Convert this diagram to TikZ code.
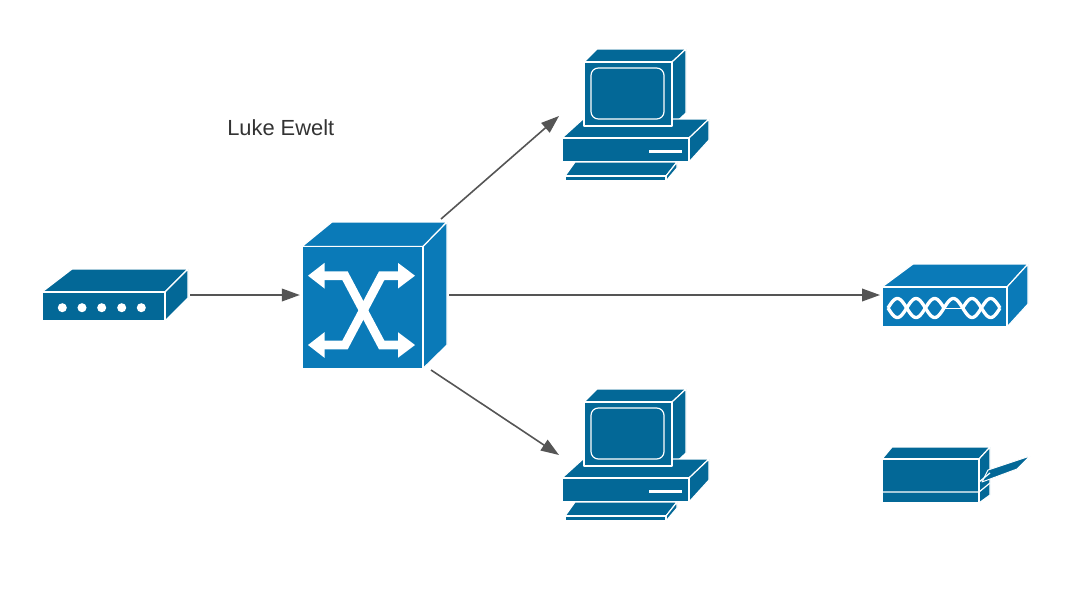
\documentclass[tikz,border=0pt]{standalone}
\usepackage{fontspec}
\setmainfont{Liberation Sans}
\usetikzlibrary{arrows.meta}
\definecolor{devdark}{HTML}{036897}
\definecolor{devlight}{HTML}{0A7AB8}
\definecolor{wire}{HTML}{555555}
\definecolor{label}{HTML}{333333}
\tikzset{
  face/.style={fill=devdark,draw=white,line width=0.9pt,line join=round},
  lface/.style={fill=devlight,draw=white,line width=0.9pt,line join=round},
  glyph/.style={draw=white,line width=6.6pt,line join=miter},
  glyphtip/.style={fill=white,draw=none},
  wave/.style={draw=white,line width=2.5pt},
  wire line/.style={draw=wire,line width=1.2pt,-{Triangle[length=13.5pt,width=9.5pt]}},
  anchor box/.style={inner sep=0pt,outer sep=1.5pt,minimum width=#1},
  caption/.style={text=label,font=\fontsize{16.4pt}{19pt}\selectfont,inner sep=0pt}
}
\newcommand{\computerdev}{%
  \path[face] (584,62) -- (597,49) -- (686,49) -- (672,62) -- cycle;
  \path[face] (672,62) -- (686,49) -- (686,113) -- (672,126) -- cycle;
  \path[face] (562,138) -- (583,119) -- (709,119) -- (689,138) -- cycle;
  \path[face] (689,138) -- (709,119) -- (709,140) -- (689,162) -- cycle;
  \path[face] (562,138) rectangle (689,162);
  \path[face] (584,62) rectangle (672,126);
  \path[face,rounded corners=5.5pt] (591,68) rectangle (664,119);
  \fill[white] (649,150) rectangle (682,152.5);
  \path[face] (565,176) -- (575,162) -- (677,162) -- (666,176) -- cycle;
  \path[face] (666,176) -- (677,162) -- (677,168) -- (666,181) -- cycle;
  \path[face] (565,176) rectangle (666,181);
}
\begin{document}
\begin{tikzpicture}[x=0.75pt,y=-0.75pt]
\useasboundingbox (0,0) rectangle (1070,590);
% hub
\path[face] (42,292) -- (72,269) -- (188,269) -- (165,292) -- cycle;
\path[face] (165,292) -- (188,269) -- (188,298) -- (165,321) -- cycle;
\path[face] (42,292) rectangle (165,321);
\foreach \dx in {62.3,82,101.7,121.7,141.3}
  \fill[white] (\dx,307.7) circle (3.4pt);
\node[anchor box=109.5pt,minimum height=39pt] (hub) at (115,295) {};
% switch
\path[lface] (302,246.5) -- (332,222) -- (447,222) -- (423,246.5) -- cycle;
\path[lface] (423,246.5) -- (447,222) -- (447,345) -- (423,368.5) -- cycle;
\path[lface] (302,246.5) rectangle (423,368.5);
\draw[glyph] (320,275.7) -- (345,275.7) -- (381.7,345) -- (402,345);
\draw[glyph] (320,345) -- (345,345) -- (381.7,275.7) -- (402,275.7);
\foreach \yy in {275.7,345}{
  \path[glyphtip] (308,\yy) -- (324.5,\yy-12.8) -- (324.5,\yy+12.8) -- cycle;
  \path[glyphtip] (415,\yy) -- (398,\yy-12.8) -- (398,\yy+12.8) -- cycle;
}
\node[anchor box=109pt,minimum height=109.5pt] (switch) at (374.5,295) {};
% computers
\begin{scope}
  \computerdev
\end{scope}
\begin{scope}[shift={(0,340)}]
  \computerdev
\end{scope}
\node[anchor box=111pt,minimum height=99pt] (compA) at (635.5,115) {};
\node[anchor box=111pt,minimum height=99pt] (compB) at (635.5,455) {};
% modem
\path[lface] (882,287) -- (913,264) -- (1028,264) -- (1007,287) -- cycle;
\path[lface] (1007,287) -- (1028,264) -- (1028,304) -- (1007,327) -- cycle;
\path[lface] (882,287) rectangle (1007,327);
\begin{scope}[shift={(888,308)}]
  \draw[wave] plot[domain=0:112,samples=120,smooth] (\x,{9.5*sin(\x/18.67*180)});
  \draw[wave] plot[domain=0:56,samples=60,smooth] (\x,{-9.5*sin(\x/18.67*180)});
  \draw[draw=white,line width=0.6pt] (56,0) -- (74.7,0);
  \draw[wave] plot[domain=74.7:112,samples=40,smooth] (\x,{-9.5*sin(\x/18.67*180)});
\end{scope}
\node[anchor box=109.5pt,minimum height=47.25pt] (modem) at (955,295.5) {};
% printer
\path[face] (882,459) -- (892,447) -- (990,447) -- (979,459) -- cycle;
\path[face] (979,459) -- (990,447) -- (990,495) -- (979,503) -- cycle;
\path[face] (882,459) rectangle (979,503);
\draw[white,line width=0.9pt] (882,492) -- (979,492) -- (990,483);
\path[fill=devdark,draw=white,line width=0.7pt,line join=round] (988,470) -- (1030,456) -- (1017,469) -- (982,482) -- cycle;
\draw[white,line width=0.9pt] (979,482) -- (990,473);
\node[anchor box=109.5pt,minimum height=42pt] (printer) at (955,475) {};
% label
\node[caption,anchor=west] (author) at (227,128) {Luke Ewelt};
% connector ends
\coordinate (swNE) at (441,219);
\coordinate (swSE) at (431,370);
\coordinate (compAin) at (559,116);
\coordinate (compBin) at (559,455);
\coordinate (modemin) at (880,295);
\draw[wire line] (hub.east) -- (switch.west);
\draw[wire line] (swNE) -- (compAin);
\draw[wire line] (switch.east) -- (modemin);
\draw[wire line] (swSE) -- (compBin);
\end{tikzpicture}
\end{document}
